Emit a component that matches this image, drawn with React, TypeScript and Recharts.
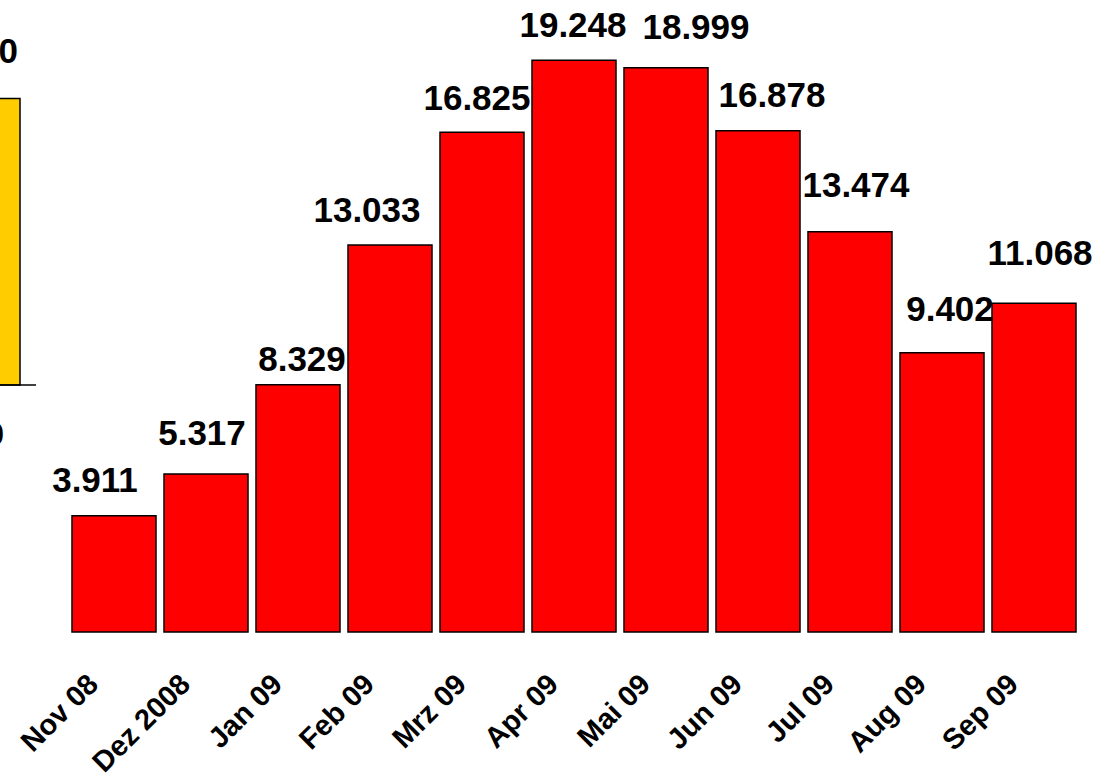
import React from "react";
import { BarChart, Bar, XAxis, YAxis, LabelList } from "recharts";

const categories = ["Nov 08", "Dez 2008", "Jan 09", "Feb 09", "Mrz 09", "Apr 09", "Mai 09", "Jun 09", "Jul 09", "Aug 09", "Sep 09"];
const values = [3911, 5317, 8329, 13033, 16825, 19248, 18999, 16878, 13474, 9402, 11068];
const labelDx = [-19, -4, 4, -23, -5, -1, 30, 14, 6, 8, 6];
const labelDy = [-24, -29, -14, -23, -22, -23, -29, -24, -35, -32, -38];

const prevCategories = ["2000"];
const prevValues = [9650];

const data = categories.map((c, i) => ({ name: c, value: values[i] }));
const prevData = prevCategories.map((c, i) => ({ name: c, value: prevValues[i] }));

const FONT = "Arial, 'Liberation Sans', sans-serif";
const fmt = (v: number) => v.toLocaleString("de-DE");

const ValueLabel = (props: any) => {
  const { x, y, width, value, index } = props;
  return (
    <text
      x={x + width / 2 + labelDx[index]}
      y={y + labelDy[index]}
      textAnchor="middle"
      fontFamily={FONT}
      fontWeight="bold"
      fontSize={35}
      fill="#000"
    >
      {fmt(value)}
    </text>
  );
};

const RotTick = (props: any) => {
  const { x, y, payload } = props;
  const px = x - 14;
  const py = y + 54;
  return (
    <text
      x={px}
      y={py}
      transform={`rotate(-45, ${px}, ${py})`}
      textAnchor="end"
      fontFamily={FONT}
      fontWeight="bold"
      fontSize={29}
      fill="#000"
    >
      {payload.value}
    </text>
  );
};

const PrevLabel = (props: any) => {
  const { x, y, width, value } = props;
  return (
    <text x={x + width - 2} y={y - 35} textAnchor="end" fontFamily={FONT} fontWeight="bold" fontSize={35} fill="#000">
      {fmt(value)}
    </text>
  );
};

const PrevTick = (props: any) => {
  const { x, y, payload } = props;
  return (
    <text x={x + 26} y={y + 60} textAnchor="end" fontFamily={FONT} fontWeight="bold" fontSize={32} fill="#000">
      {payload.value}
    </text>
  );
};

export default function App() {
  return (
    <div style={{ position: "absolute", left: 0, top: 0, width: 1111, height: 777, background: "#fff", overflow: "hidden" }}>
      <div style={{ position: "absolute", left: -80, top: 0 }}>
        <BarChart width={116} height={777} data={prevData} margin={{ top: 88, right: 0, bottom: 332, left: 0 }}>
          <XAxis
            dataKey="name"
            height={60}
            tickLine={false}
            tickSize={0}
            tickMargin={0}
            axisLine={{ stroke: "#000", strokeWidth: 1.5 }}
            tick={<PrevTick />}
            interval={0}
          />
          <YAxis hide domain={[0, 10000]} />
          <Bar dataKey="value" fill="#FFCC00" stroke="#000" strokeWidth={1.5} barSize={84} isAnimationActive={false}>
            <LabelList dataKey="value" content={<PrevLabel />} />
          </Bar>
        </BarChart>
      </div>
      <div style={{ position: "absolute", left: 0, top: 0 }}>
        <BarChart width={1111} height={777} data={data} margin={{ top: 38, right: 31, bottom: 45, left: 68 }}>
          <XAxis
            dataKey="name"
            height={100}
            tickLine={false}
            tickSize={0}
            tickMargin={0}
            axisLine={false}
            tick={<RotTick />}
            interval={0}
          />
          <YAxis hide domain={[0, 20000]} />
          <Bar dataKey="value" fill="#FF0000" stroke="#000" strokeWidth={1.5} barSize={84} isAnimationActive={false}>
            <LabelList dataKey="value" content={<ValueLabel />} />
          </Bar>
        </BarChart>
      </div>
    </div>
  );
}
